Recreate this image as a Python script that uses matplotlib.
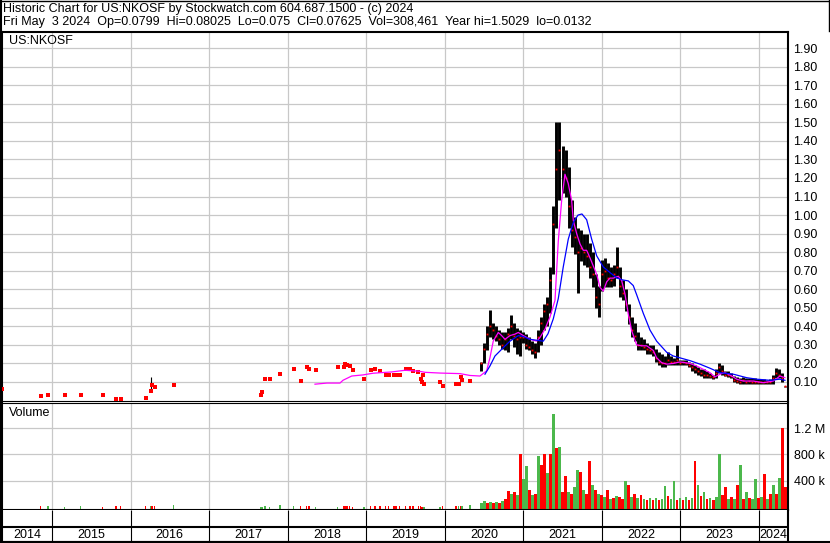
import numpy as np
import pandas as pd
import matplotlib
matplotlib.use("Agg")
import matplotlib.pyplot as plt
from matplotlib.lines import Line2D

plt.rcParams['font.family'] = ['Liberation Sans', 'DejaVu Sans']

# ---------------- data ----------------
header1 = "Historic Chart for US:NKOSF by Stockwatch.com 604.687.1500 - (c) 2024"
header2 = ("Fri May  3 2024  Op=0.0799  Hi=0.08025  Lo=0.075  Cl=0.07625  "
           "Vol=308,461  Year hi=1.5029  lo=0.0132")
symbol = "US:NKOSF"
years = list(range(2014, 2025))
price_ticks = [round(0.1 * k, 2) for k in range(1, 20)]
vol_ticks = [400e3, 800e3, 1.2e6]
vol_tick_labels = ["400 k", "800 k", "1.2 M"]

# sparse early trades (decimal year, close)
sparse_years = [2014.364, 2014.856, 2014.949, 2015.162, 2015.365, 2015.645, 2015.815, 2015.874,
                2016.193, 2016.256, 2016.273, 2016.307, 2016.549, 2017.657, 2017.673, 2017.715,
                2017.771, 2017.906, 2018.077, 2018.166, 2018.242, 2018.275, 2018.357, 2018.637,
                2018.713, 2018.733, 2018.759, 2018.789, 2018.828, 2018.972, 2019.057, 2019.112,
                2019.175, 2019.248, 2019.286, 2019.353, 2019.379, 2019.426, 2019.502, 2019.557,
                2019.599, 2019.663, 2019.693, 2019.710, 2019.719, 2019.735, 2019.939, 2019.973,
                2020.143, 2020.177, 2020.202, 2020.219, 2020.321]
sparse_close = [0.062, 0.026, 0.031, 0.031, 0.031, 0.031, 0.010, 0.010, 0.012, 0.053, 0.085,
                0.075, 0.084, 0.031, 0.048, 0.116, 0.116, 0.143, 0.170, 0.105, 0.181, 0.168,
                0.165, 0.181, 0.181, 0.199, 0.190, 0.185, 0.165, 0.115, 0.165, 0.172, 0.158,
                0.140, 0.135, 0.135, 0.139, 0.140, 0.170, 0.168, 0.158, 0.156, 0.115, 0.100,
                0.135, 0.089, 0.102, 0.078, 0.089, 0.089, 0.127, 0.110, 0.105]
sparse_vol_k = [3, 5, 5, 3, 5, 3, 5, 5, 5, 15, 8, 5, 30, 3, 3, 5, 3, 30, 5, 5, 5, 5, 3, 3, 5, 8,
                5, 5, 3, 3, 5, 5, 5, 5, 5, 5, 5, 5, 5, 5, 5, 5, 5, 3, 3, 3, 3, 5, 5, 8, 10, 5, 20]
sparse_updown = "rrgggrrrrg" "rrgggggggr" "rrggrrrrrg" "rrrrrrrrrr" "rrrrrggrrg" "rgg"
spike_years = [2016.256, 2019.693]
spike_high = [0.127, 0.145]
spike_low = [0.053, 0.105]

# active period, one entry every two weeks
dense_end = "2024-05-03"
dense_high = [0.21, 0.31, 0.40, 0.49, 0.42, 0.40, 0.38, 0.37, 0.37, 0.39,
              0.46, 0.42, 0.39, 0.38, 0.37, 0.36, 0.34, 0.32, 0.31, 0.38,
              0.45, 0.52, 0.56, 0.72, 1.05, 1.50, 1.50, 1.37, 1.35, 1.26,
              1.08, 0.99, 0.93, 0.92, 0.90, 0.90, 0.85, 0.80, 0.68, 0.62,
              0.76, 0.77, 0.74, 0.72, 0.73, 0.83, 0.72, 0.65, 0.60, 0.52,
              0.45, 0.42, 0.37, 0.34, 0.33, 0.31, 0.30, 0.30, 0.28, 0.26,
              0.25, 0.24, 0.26, 0.24, 0.23, 0.30, 0.22, 0.22, 0.22, 0.21,
              0.20, 0.19, 0.18, 0.17, 0.17, 0.16, 0.15, 0.14, 0.17, 0.20,
              0.19, 0.16, 0.16, 0.15, 0.13, 0.125, 0.12, 0.125, 0.12, 0.12,
              0.12, 0.12, 0.115, 0.115, 0.115, 0.11, 0.115, 0.14, 0.175, 0.17,
              0.15, 0.08025]
dense_low = [0.16, 0.20, 0.27, 0.34, 0.33, 0.32, 0.30, 0.28, 0.27, 0.26,
             0.33, 0.29, 0.25, 0.24, 0.31, 0.28, 0.27, 0.25, 0.23, 0.26,
             0.30, 0.38, 0.40, 0.47, 0.68, 0.93, 1.08, 1.12, 1.10, 0.93,
             0.83, 0.79, 0.58, 0.75, 0.73, 0.72, 0.66, 0.61, 0.50, 0.45,
             0.59, 0.61, 0.61, 0.61, 0.62, 0.66, 0.56, 0.54, 0.48, 0.41,
             0.34, 0.32, 0.27, 0.27, 0.27, 0.25, 0.25, 0.24, 0.21, 0.19,
             0.18, 0.18, 0.19, 0.19, 0.19, 0.19, 0.19, 0.19, 0.19, 0.18,
             0.16, 0.15, 0.14, 0.13, 0.12, 0.12, 0.12, 0.115, 0.12, 0.15,
             0.14, 0.13, 0.125, 0.12, 0.10, 0.095, 0.09, 0.09, 0.09, 0.09,
             0.09, 0.09, 0.09, 0.09, 0.09, 0.09, 0.09, 0.09, 0.12, 0.12,
             0.10, 0.075]
dense_close = [0.20, 0.28, 0.36, 0.40, 0.38, 0.35, 0.33, 0.30, 0.33, 0.36,
               0.40, 0.35, 0.33, 0.34, 0.34, 0.30, 0.29, 0.27, 0.26, 0.34,
               0.42, 0.48, 0.52, 0.65, 0.95, 1.25, 1.35, 1.25, 1.20, 1.05,
               0.92, 0.88, 0.80, 0.82, 0.80, 0.78, 0.72, 0.68, 0.56, 0.52,
               0.68, 0.70, 0.66, 0.65, 0.68, 0.72, 0.62, 0.58, 0.52, 0.45,
               0.38, 0.35, 0.30, 0.30, 0.29, 0.28, 0.27, 0.26, 0.23, 0.21,
               0.20, 0.20, 0.22, 0.21, 0.21, 0.22, 0.20, 0.21, 0.20, 0.19,
               0.18, 0.17, 0.16, 0.15, 0.14, 0.14, 0.13, 0.125, 0.15, 0.18,
               0.16, 0.14, 0.14, 0.13, 0.11, 0.105, 0.10, 0.11, 0.10, 0.105,
               0.10, 0.10, 0.10, 0.10, 0.10, 0.10, 0.10, 0.12, 0.15, 0.14,
               0.12, 0.07625]
dense_vol_k = [60, 95, 60, 80, 60, 70, 60, 95, 120, 240,
               200, 230, 180, 805, 420, 620, 250, 180, 200, 775,
               635, 805, 510, 800, 1420, 900, 915, 225, 466, 220,
               200, 300, 560, 530, 250, 200, 700, 330, 250, 200,
               180, 150, 250, 120, 130, 160, 150, 120, 390, 330,
               150, 200, 140, 180, 120, 100, 140, 110, 130, 100,
               120, 315, 160, 120, 390, 110, 130, 100, 150, 110,
               140, 700, 330, 160, 220, 120, 140, 110, 150, 805,
               180, 310, 120, 150, 120, 330, 635, 120, 230, 140,
               120, 430, 130, 150, 500, 120, 200, 340, 200, 445,
               1200, 308]
dense_updown = ("ggrgrgrgrr" "grgrggrgrg" "rrgrgrgrrg" "rggrgrrgrg" "rgrgrgrrgr"
                "grgrgrgrgr" "ggrggrgrgr" "grgrgrgrgg" "rrgrgrgrgr" "ggrgrgrgrg" "rr")

# moving averages (decimal year, value)
ma_short_years = [2018.348, 2018.500, 2018.666, 2018.704, 2018.772, 2018.815, 2018.959, 2019.086,
                  2019.324, 2019.493, 2019.672, 2019.748, 2019.939, 2020.194, 2020.321, 2020.448,
                  2020.533, 2020.575, 2020.617, 2020.681, 2020.724, 2020.766, 2020.830, 2020.894,
                  2020.936, 2020.999, 2021.085, 2021.170, 2021.212, 2021.276, 2021.339, 2021.403,
                  2021.445, 2021.488, 2021.530, 2021.572, 2021.615, 2021.636, 2021.679, 2021.721,
                  2021.763, 2021.806, 2021.848, 2021.934, 2021.976, 2022.018, 2022.061, 2022.103,
                  2022.145, 2022.209, 2022.252, 2022.294, 2022.336, 2022.379, 2022.443, 2022.506,
                  2022.570, 2022.654, 2022.697, 2022.761, 2022.825, 2022.909, 2022.994, 2023.121,
                  2023.206, 2023.291, 2023.376, 2023.439, 2023.503, 2023.567, 2023.652, 2023.716,
                  2023.800, 2023.927, 2024.054, 2024.182, 2024.267, 2024.330]
ma_short = [0.088, 0.094, 0.094, 0.109, 0.123, 0.132, 0.138, 0.147, 0.154, 0.163,
            0.158, 0.152, 0.148, 0.145, 0.135, 0.132, 0.16, 0.23, 0.32, 0.367,
            0.35, 0.33, 0.35, 0.358, 0.367, 0.35, 0.33, 0.32, 0.34, 0.385,
            0.45, 0.54, 0.86, 1.08, 1.22, 1.17, 1.08, 0.97, 0.90, 0.845,
            0.81, 0.81, 0.77, 0.68, 0.61, 0.59, 0.64, 0.66, 0.66, 0.67,
            0.646, 0.574, 0.466, 0.376, 0.30, 0.295, 0.295, 0.27, 0.23, 0.204,
            0.196, 0.20, 0.208, 0.20, 0.186, 0.168, 0.15, 0.127, 0.142, 0.15,
            0.132, 0.115, 0.105, 0.105, 0.096, 0.105, 0.132, 0.123]
ma_long_years = [2020.512, 2020.575, 2020.639, 2020.745, 2020.830, 2020.936, 2020.999, 2021.085,
                 2021.170, 2021.254, 2021.314, 2021.381, 2021.445, 2021.508, 2021.572, 2021.636,
                 2021.696, 2021.746, 2021.806, 2021.870, 2021.934, 2022.018, 2022.103, 2022.192,
                 2022.268, 2022.336, 2022.399, 2022.443, 2022.527, 2022.612, 2022.697, 2022.825,
                 2022.909, 2022.994, 2023.121, 2023.249, 2023.376, 2023.503, 2023.672, 2023.843,
                 2023.970, 2024.140, 2024.267, 2024.330]
ma_long = [0.142, 0.186, 0.24, 0.285, 0.32, 0.35, 0.345, 0.33, 0.325, 0.32,
           0.36, 0.44, 0.55, 0.72, 0.87, 0.96, 1.0, 1.006, 0.975, 0.87,
           0.78, 0.72, 0.69, 0.66, 0.65, 0.645, 0.62, 0.57, 0.47, 0.38,
           0.32, 0.26, 0.24, 0.23, 0.215, 0.196, 0.174, 0.15, 0.142, 0.123,
           0.115, 0.109, 0.115, 0.109]

# ---------------- helpers ----------------
def to_year(dates):
    days = np.where(dates.is_leap_year, 366.0, 365.0)
    return dates.year.values + (dates.dayofyear.values - 1) / days

dense_dates = pd.date_range(end=dense_end, periods=len(dense_close), freq="14D")
dense_years = to_year(dense_dates)

W, H = 830, 543
fig = plt.figure(figsize=(W / 100, H / 100), dpi=100)
fig.patch.set_facecolor("white")

def box(l, t, r, b):
    return [l / W, 1 - b / H, (r - l) / W, (b - t) / H]

XL = (2014.364, 2024.369)
GRID = "#c8c8c8"
RED = "#ff0000"
GREEN = "#4cb84c"
FS = 9

ax = fig.add_axes(box(2, 31.5, 788, 400.5))
axv = fig.add_axes(box(2, 402.5, 788, 509.5))
axd = fig.add_axes(box(2, 510, 788, 542))

# ---- price panel ----
ax.set_xlim(*XL)
ax.set_ylim(0, 1.99)
ax.set_xticks(years[1:])
ax.set_yticks(price_ticks)
ax.set_yticklabels([f"{v:.2f}" for v in price_ticks])
ax.grid(True, color=GRID, lw=0.9)
ax.set_axisbelow(True)
ax.yaxis.set_ticks_position("right")
ax.tick_params(axis="y", length=0, pad=4, labelsize=FS)
ax.tick_params(axis="x", length=0, labelbottom=False)

ax.vlines(dense_years, dense_low, dense_high, colors="black", lw=2.1, zorder=2)
ax.vlines(spike_years, spike_low, spike_high, colors="black", lw=0.8, zorder=2)
ax.plot(dense_years, dense_close, "s", color=RED, ms=1.3, mew=0, zorder=3)
ax.plot(sparse_years, sparse_close, "s", color=RED, ms=2.3, mew=0, ls="none", zorder=3)
ax.plot(ma_short_years, ma_short, color="#ff00ff", lw=0.9, zorder=4)
ax.plot(ma_long_years, ma_long, color="#0000ff", lw=0.9, zorder=4)

# ---- volume panel ----
VB = -41500
axv.set_xlim(*XL)
axv.set_ylim(VB, 1.594e6)
axv.set_xticks(years[1:])
axv.set_yticks(vol_ticks)
axv.set_yticklabels(vol_tick_labels)
axv.grid(True, color=GRID, lw=0.9)
axv.set_axisbelow(True)
axv.yaxis.set_ticks_position("right")
axv.tick_params(axis="y", length=0, pad=4, labelsize=FS)
axv.tick_params(axis="x", length=0, labelbottom=False)

dv = np.array(dense_vol_k) * 1000.0
sv = np.array(sparse_vol_k) * 1000.0
dcol = [GREEN if c == "g" else RED for c in dense_updown]
scol = [GREEN if c == "g" else RED for c in sparse_updown]
axv.bar(dense_years, dv - VB, bottom=VB, width=0.034, color=dcol, lw=0, zorder=2)
axv.bar(sparse_years, sv - VB, bottom=VB, width=0.02, color=scol, lw=0, zorder=2)

# ---- date strip ----
axd.set_xlim(*XL)
axd.set_ylim(32, 0)
axd.set_xticks([])
axd.set_yticks([])
axd.vlines(years[1:], 0, 32, colors="black", lw=0.8)
axd.axhline(16.5, color="black", lw=1.5)
edges = [XL[0]] + years[1:] + [XL[1]]
for i, yr in enumerate(years):
    axd.text((edges[i] + edges[i + 1]) / 2, 24.5, str(yr), ha="center", va="center", fontsize=FS)

# ---- spines ----
for a in (ax, axv, axd):
    for s in a.spines.values():
        s.set_color("black")
        s.set_linewidth(1.5)
ax.spines["bottom"].set_linewidth(0.8)
axv.spines["top"].set_linewidth(0.8)
axd.spines["top"].set_visible(False)

# ---- texts ----
fig.text(3 / W, 1 - 9 / H, header1, ha="left", va="center", fontsize=FS)
fig.text(3 / W, 1 - 22 / H, header2, ha="left", va="center", fontsize=FS)
fig.text(9 / W, 1 - 41 / H, symbol, ha="left", va="center", fontsize=FS)
fig.text(9 / W, 1 - 413 / H, "Volume", ha="left", va="center", fontsize=FS)

# ---- outer frame ----
fig.add_artist(Line2D([0, 1], [1 - 0.6 / H] * 2, transform=fig.transFigure, color="black", lw=1.0))
fig.add_artist(Line2D([1 / W] * 2, [0, 1], transform=fig.transFigure, color="black", lw=1.5))
fig.add_artist(Line2D([0, 1], [1.0 / H] * 2, transform=fig.transFigure, color="black", lw=1.5))
fig.add_artist(Line2D([1 - 1 / W] * 2, [1 - 31 / H, 1], transform=fig.transFigure, color="black", lw=1.0))

fig.savefig("out.png", dpi=100, facecolor="white")
